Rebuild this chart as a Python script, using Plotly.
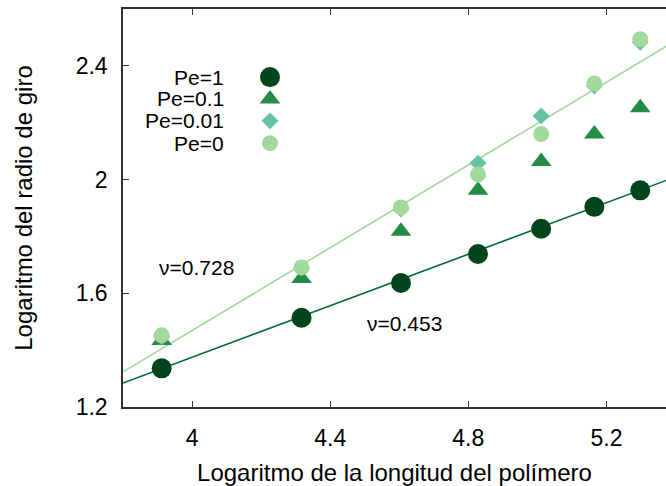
import plotly.graph_objects as go

# ---- data ----
log_n = [3.912, 4.317, 4.605, 4.828, 5.011, 5.165, 5.298]
pe_1 = [1.336, 1.514, 1.636, 1.738, 1.827, 1.904, 1.962]
pe_01 = [1.434, 1.652, 1.818, 1.962, 2.064, 2.160, 2.253]
pe_001 = [1.447, 1.690, 1.896, 2.058, 2.224, 2.329, 2.483]
pe_0 = [1.452, 1.691, 1.902, 2.018, 2.160, 2.338, 2.494]

series_names = ["Pe=1", "Pe=0.1", "Pe=0.01", "Pe=0"]
series_vals = [pe_1, pe_01, pe_001, pe_0]
series_colors = ["#00441b", "#238b45", "#66c2a4", "#a1d99b"]
series_symbols = ["circle", "triangle-up", "diamond", "circle"]
series_sizes = [20, 18, 13, 16]

# fit lines: exponent nu and intercept
fit_nu = [0.453, 0.728]
fit_b = [-0.437, -1.443]
fit_colors = ["#006d2c", "#a1d99b"]
fit_labels = ["ν=0.453", "ν=0.728"]
fit_label_pos = [(4.50, 1.493), (3.898, 1.691)]

x_range = [3.8, 5.3725]
y_range = [1.2, 2.6]

FONT = "Liberation Sans, Arial, sans-serif"

fig = go.Figure()

# fit lines
x_line = [3.8, 5.5]
for nu, b, c in zip(fit_nu, fit_b, fit_colors):
    fig.add_trace(go.Scatter(x=x_line, y=[nu * xv + b for xv in x_line], mode="lines",
                             line=dict(color=c, width=1.6), showlegend=False, hoverinfo="skip"))

# data series: draw in order Pe=1, 0.1, 0.01, 0
for name, vals, c, sym, s in zip(series_names, series_vals, series_colors, series_symbols, series_sizes):
    fig.add_trace(go.Scatter(x=log_n, y=vals, mode="markers", name=name,
                             marker=dict(color=c, symbol=sym, size=s, line=dict(width=0)),
                             showlegend=False))

# custom legend (gnuplot style: text then symbol) on overlay axes
leg_y = [0.829, 0.774, 0.719, 0.663]
for name, c, sym, s, yy in zip(series_names, series_colors, series_symbols, series_sizes, leg_y):
    fig.add_trace(go.Scatter(x=[0.2707], y=[yy], mode="markers", xaxis="x2", yaxis="y2",
                             marker=dict(color=c, symbol=sym, size=s, line=dict(width=0)),
                             showlegend=False, hoverinfo="skip"))
    fig.add_annotation(x=0.19, y=yy, xref="x2", yref="y2", text=name, showarrow=False,
                       xanchor="right", yanchor="middle", font=dict(family=FONT, size=21, color="black"))

for (tx, ty), t in zip(fit_label_pos, fit_labels):
    fig.add_annotation(x=tx, y=ty, text=t, showarrow=False, xanchor="left", yanchor="middle",
                       font=dict(family=FONT, size=21, color="black"))

axis_common = dict(showgrid=False, zeroline=False, showline=True, linecolor="#333333", linewidth=1.5,
                   ticks="inside", ticklen=6, tickwidth=1, tickcolor="#333333",
                   tickfont=dict(family=FONT, size=23, color="black"))

fig.update_layout(
    width=666, height=486,
    margin=dict(l=123, r=0, t=9, b=79),
    paper_bgcolor="white", plot_bgcolor="white",
    xaxis=dict(range=x_range, tickvals=[4.0, 4.4, 4.8, 5.2], ticktext=["4", "4.4", "4.8", "5.2"],
               mirror="ticks", ticklabelstandoff=10,
               title=dict(text="Logaritmo de la longitud del polímero", font=dict(family=FONT, size=24, color="black"),
                          standoff=14),
               **axis_common),
    yaxis=dict(range=y_range, tickvals=[1.2, 1.6, 2.0, 2.4], ticktext=["1.2", "1.6", "2", "2.4"],
               mirror=False, ticklabelstandoff=9,
               title=dict(text="Logaritmo del radio de giro", font=dict(family=FONT, size=24, color="black"),
                          standoff=36),
               **axis_common),
    xaxis2=dict(range=[0, 1], overlaying="x", visible=False),
    yaxis2=dict(range=[0, 1], overlaying="y", visible=False),
)

fig.write_html("out.html")
